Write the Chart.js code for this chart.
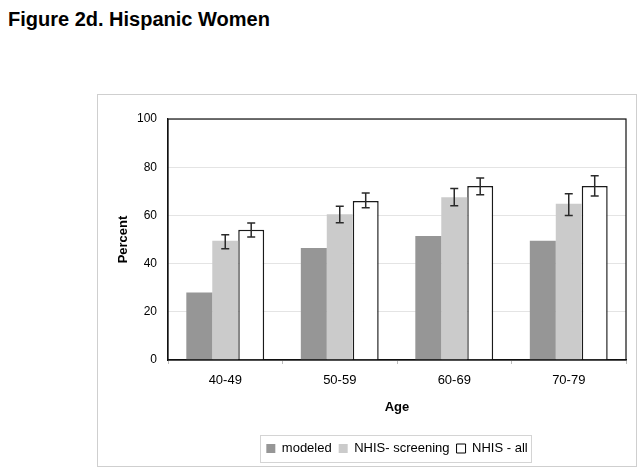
<!DOCTYPE html>
<html>
<head>
<meta charset="utf-8">
<script src="https://cdn.jsdelivr.net/npm/chart.js@4"></script>
<style>
  html, body { margin: 0; padding: 0; background: #fff; }
  body { width: 644px; height: 473px; position: relative; overflow: hidden; }
  #title { position: absolute; left: 8px; top: 9px; font: bold 20px "Liberation Sans", Arial, sans-serif; line-height: 20px; color: #000; white-space: nowrap; }
  #frame { position: absolute; left: 97px; top: 94px; width: 538px; height: 371px; border: 1px solid #cfcfcf; }
  #wrap { position: absolute; left: 0; top: 0; width: 644px; height: 473px; }
</style>
</head>
<body>
<div id="title">Figure 2d. Hispanic Women</div>
<div id="frame"></div>
<div id="wrap"><canvas id="c" width="644" height="473"></canvas></div>
<script>
// ---- data ----
const categories = ["40-49", "50-59", "60-69", "70-79"];
const seriesNames = ["modeled", "NHIS- screening", "NHIS - all"];
const modeled = [28, 46.5, 51.5, 49.5];
const screening = [49.5, 60.5, 67.5, 64.8];
const screeningLow = [46.2, 57, 64, 60];
const screeningHigh = [52, 63.8, 71.2, 69];
const allWomen = [54, 66, 72.2, 72.2];
const allLow = [51, 63.2, 68.6, 68];
const allHigh = [56.8, 69.3, 75.5, 76.5];
const yTicks = [0, 20, 40, 60, 80, 100];

const FONT = "'Liberation Sans', Arial, sans-serif";

const errorBars = {
  id: 'errorBars',
  afterDatasetsDraw(chart) {
    const ctx = chart.ctx;
    const y = chart.scales.y;
    chart.data.datasets.forEach((ds, di) => {
      if (!ds.errLow) return;
      const meta = chart.getDatasetMeta(di);
      meta.data.forEach((bar, i) => {
        const x = bar.x;
        const yl = y.getPixelForValue(ds.errLow[i]);
        const yh = y.getPixelForValue(ds.errHigh[i]);
        ctx.save();
        ctx.strokeStyle = '#2a2a2a';
        ctx.lineWidth = 1.5;
        ctx.beginPath();
        ctx.moveTo(x, yl); ctx.lineTo(x, yh);
        ctx.moveTo(x - 4, yl); ctx.lineTo(x + 4, yl);
        ctx.moveTo(x - 4, yh); ctx.lineTo(x + 4, yh);
        ctx.stroke();
        ctx.restore();
      });
    });
  }
};

const plotBorder = {
  id: 'plotBorder',
  afterDraw(chart) {
    const {ctx, chartArea: a} = chart;
    ctx.save();
    ctx.strokeStyle = '#111';
    ctx.lineWidth = 1.2;
    ctx.strokeRect(a.left, a.top, a.right - a.left, a.bottom - a.top);
    // legend box
    const lg = chart.legend;
    if (lg && lg.legendHitBoxes && lg.legendHitBoxes.length) {
      let l = Infinity, r = -Infinity, t = Infinity, b = -Infinity;
      lg.legendHitBoxes.forEach(h => {
        l = Math.min(l, h.left); r = Math.max(r, h.left + h.width);
        t = Math.min(t, h.top); b = Math.max(b, h.top + h.height);
      });
      ctx.strokeStyle = '#d4d4d4';
      ctx.lineWidth = 1;
      ctx.strokeRect(Math.round(l - 6) + 0.5, Math.round(t - 7) + 0.5, Math.round(r - l + 10), Math.round(b - t + 14));
    }
    ctx.restore();
  }
};

new Chart(document.getElementById('c'), {
  type: 'bar',
  data: {
    labels: categories,
    datasets: [
      { label: seriesNames[0], data: modeled, backgroundColor: '#969696', borderWidth: 0 },
      { label: seriesNames[1], data: screening, backgroundColor: '#cbcbcb', borderWidth: 0,
        errLow: screeningLow, errHigh: screeningHigh },
      { label: seriesNames[2], data: allWomen, backgroundColor: '#ffffff', borderColor: '#1a1a1a', borderWidth: 1.5,
        errLow: allLow, errHigh: allHigh }
    ]
  },
  options: {
    responsive: false,
    animation: false,
    devicePixelRatio: 1,
    layout: { padding: { left: 98, right: 18, top: 119, bottom: 8 } },
    datasets: { bar: { categoryPercentage: 0.68, barPercentage: 1.0 } },
    plugins: {
      tooltip: { enabled: false },
      title: { display: false },
      legend: {
        position: 'bottom',
        fullSize: false,
        labels: {
          boxWidth: 9, boxHeight: 9, padding: 7, color: '#000',
          font: { family: FONT, size: 13 },
          generateLabels(chart) {
            return chart.data.datasets.map((ds, i) => ({
              text: ds.label,
              fillStyle: ds.backgroundColor,
              strokeStyle: i === 2 ? '#000' : ds.backgroundColor,
              lineWidth: i === 2 ? 1 : 0,
              datasetIndex: i,
              hidden: false
            }));
          }
        }
      }
    },
    scales: {
      x: {
        afterFit(s) { s.height = 75; },
        grid: { offset: true, drawOnChartArea: false, drawTicks: true, tickLength: 4, color: '#bdbdbd' },
        border: { color: '#111', width: 1.2 },
        ticks: { color: '#000', font: { family: FONT, size: 13 }, padding: 9 },
        title: { display: true, text: 'Age', color: '#000', font: { family: FONT, size: 13, weight: 'bold' }, padding: { top: 0, bottom: 20 } }
      },
      y: {
        min: 0, max: 100,
        afterFit(s) { s.width = 70; },
        afterBuildTicks(s) { s.ticks = yTicks.map(v => ({ value: v })); },
        grid: { color: '#e4e4e4', drawTicks: false },
        border: { color: '#111', width: 1.2 },
        ticks: { color: '#000', font: { family: FONT, size: 12 }, padding: 11 },
        title: { display: true, text: 'Percent', color: '#000', font: { family: FONT, size: 13, weight: 'bold' }, padding: { top: 18, bottom: 0 } }
      }
    }
  },
  plugins: [errorBars, plotBorder]
});
</script>
</body>
</html>
